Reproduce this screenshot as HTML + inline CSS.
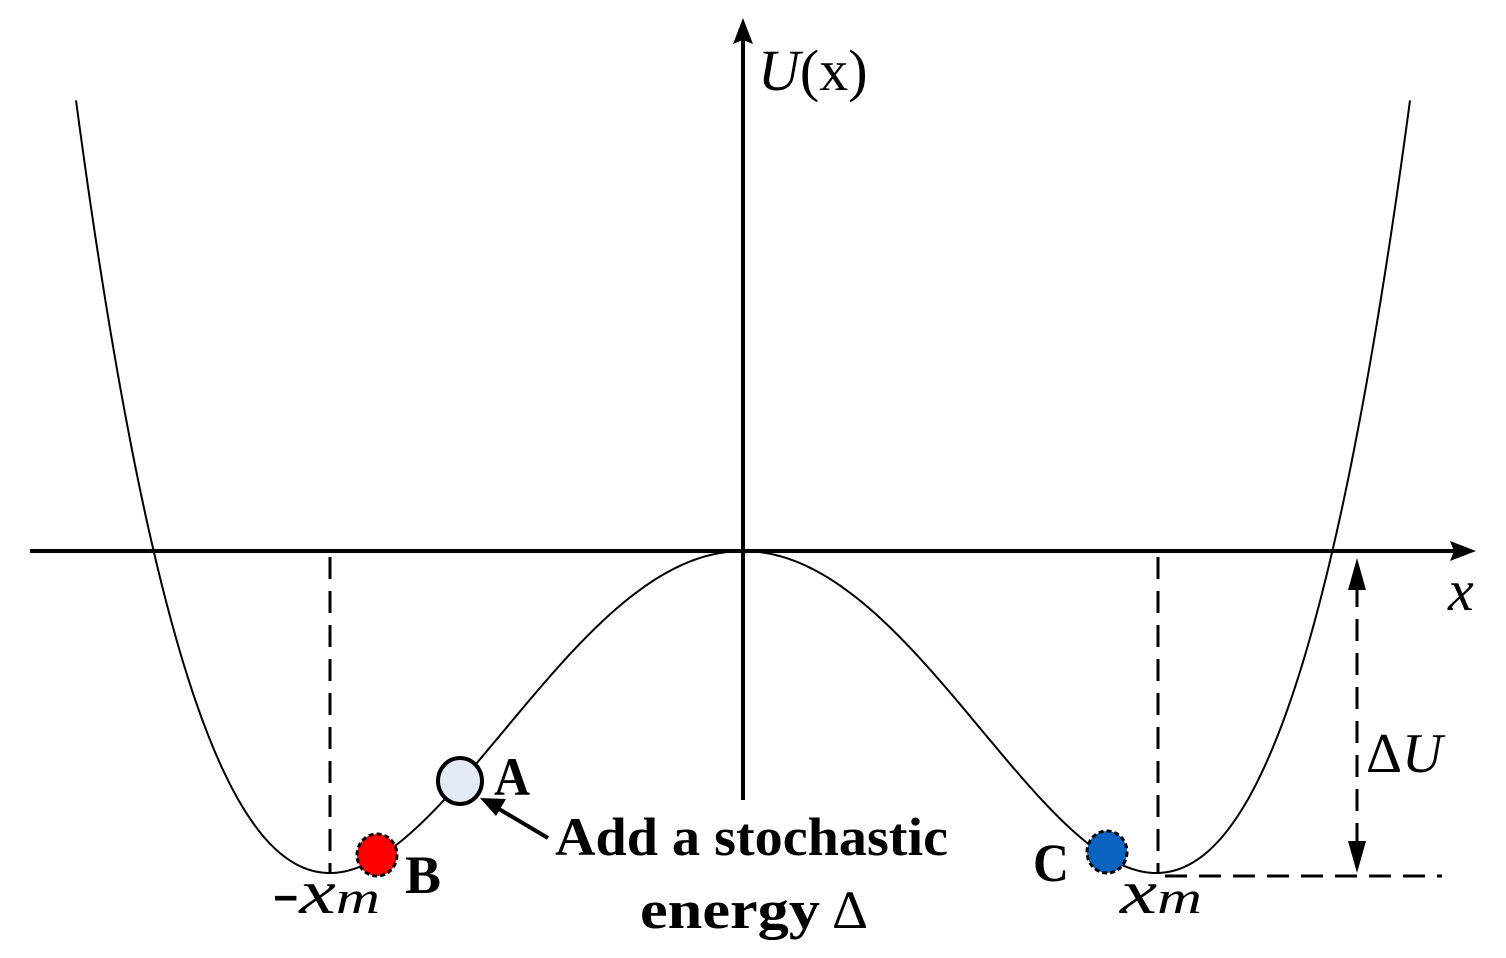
<!DOCTYPE html>
<html><head><meta charset="utf-8"><style>html,body{margin:0;padding:0;background:#fff}svg{display:block}</style></head>
<body>
<svg id="s" width="1506" height="958" viewBox="0 0 1506 958" xmlns="http://www.w3.org/2000/svg" font-family="Liberation Serif, serif">
<path id="curve" d="" fill="none" stroke="#000" stroke-width="2"/>
<!-- axes -->
<line x1="30" y1="551" x2="1460" y2="551" stroke="#000" stroke-width="4"/>
<path d="M1476,551 L1450,541 L1454,551 L1450,561 Z" fill="#000"/>
<line x1="743" y1="800" x2="743" y2="35" stroke="#000" stroke-width="4"/>
<path d="M743,18 L733,44 L743,40 L753,44 Z" fill="#000"/>
<!-- dashed -->
<line x1="330" y1="557" x2="330" y2="873" stroke="#000" stroke-width="3" stroke-dasharray="22,12"/>
<line x1="1158" y1="557" x2="1158" y2="873" stroke="#000" stroke-width="3" stroke-dasharray="22,12"/>
<line x1="1165" y1="876" x2="1442" y2="876" stroke="#000" stroke-width="3" stroke-dasharray="22,12"/>
<line x1="1357" y1="585" x2="1357" y2="845" stroke="#000" stroke-width="3" stroke-dasharray="22,12"/>
<path d="M1357,558 L1348,590 L1366,590 Z" fill="#000"/>
<path d="M1357,873 L1348,841 L1366,841 Z" fill="#000"/>
<!-- balls -->
<ellipse cx="460" cy="781" rx="22" ry="23" fill="#e4eaf5" stroke="#000" stroke-width="4"/>
<ellipse cx="377" cy="855" rx="20" ry="21" fill="#f00" stroke="#000" stroke-width="3" stroke-dasharray="5,3"/>
<ellipse cx="1107" cy="852" rx="20" ry="21" fill="#0b62bf" stroke="#000" stroke-width="3" stroke-dasharray="5,3"/>
<!-- arrow -->
<line x1="548" y1="838" x2="494" y2="806" stroke="#000" stroke-width="4"/>
<path d="M480,798 L506,799 L496,816 Z" fill="#000"/>
<!-- labels -->
<g font-weight="bold" font-size="54">
<text x="494" y="795" textLength="36" lengthAdjust="spacingAndGlyphs">A</text>
<text x="405" y="893" textLength="36" lengthAdjust="spacingAndGlyphs">B</text>
<text x="1033" y="881" textLength="36" lengthAdjust="spacingAndGlyphs">C</text>
<text x="555" y="855" textLength="393" lengthAdjust="spacingAndGlyphs">Add a stochastic</text>
<text x="640" y="928" textLength="180" lengthAdjust="spacingAndGlyphs">energy</text>
<text x="832" y="928" font-weight="normal" textLength="36" lengthAdjust="spacingAndGlyphs">Δ</text>
</g>
<text x="758" y="90" font-size="58"><tspan font-style="italic">U</tspan>(x)</text>
<text x="1448" y="610" font-size="58" font-style="italic">x</text>
<text x="1366" y="772" font-size="56">Δ<tspan font-style="italic">U</tspan></text>
<text x="272" y="913" font-size="62" font-style="italic" textLength="108" lengthAdjust="spacingAndGlyphs">-x<tspan font-size="46">m</tspan></text>
<text x="1120" y="913" font-size="62" font-style="italic" textLength="82" lengthAdjust="spacingAndGlyphs">x<tspan font-size="46">m</tspan></text>
</svg>
<script>
(function(){
var d="";
for(var x=70;x<=1420;x+=2){
 var t=(x-743)/413;
 var a=Math.abs(t);
 if(a>1){a=1+(a-1)*0.97;}
 var y=551+322*(2*a*a-Math.pow(a,4));
 if(y<92) continue;
 d+=(d?"L":"M")+x+","+y.toFixed(1);
}
document.getElementById("curve").setAttribute("d",d);
})();
</script>
</body></html>
